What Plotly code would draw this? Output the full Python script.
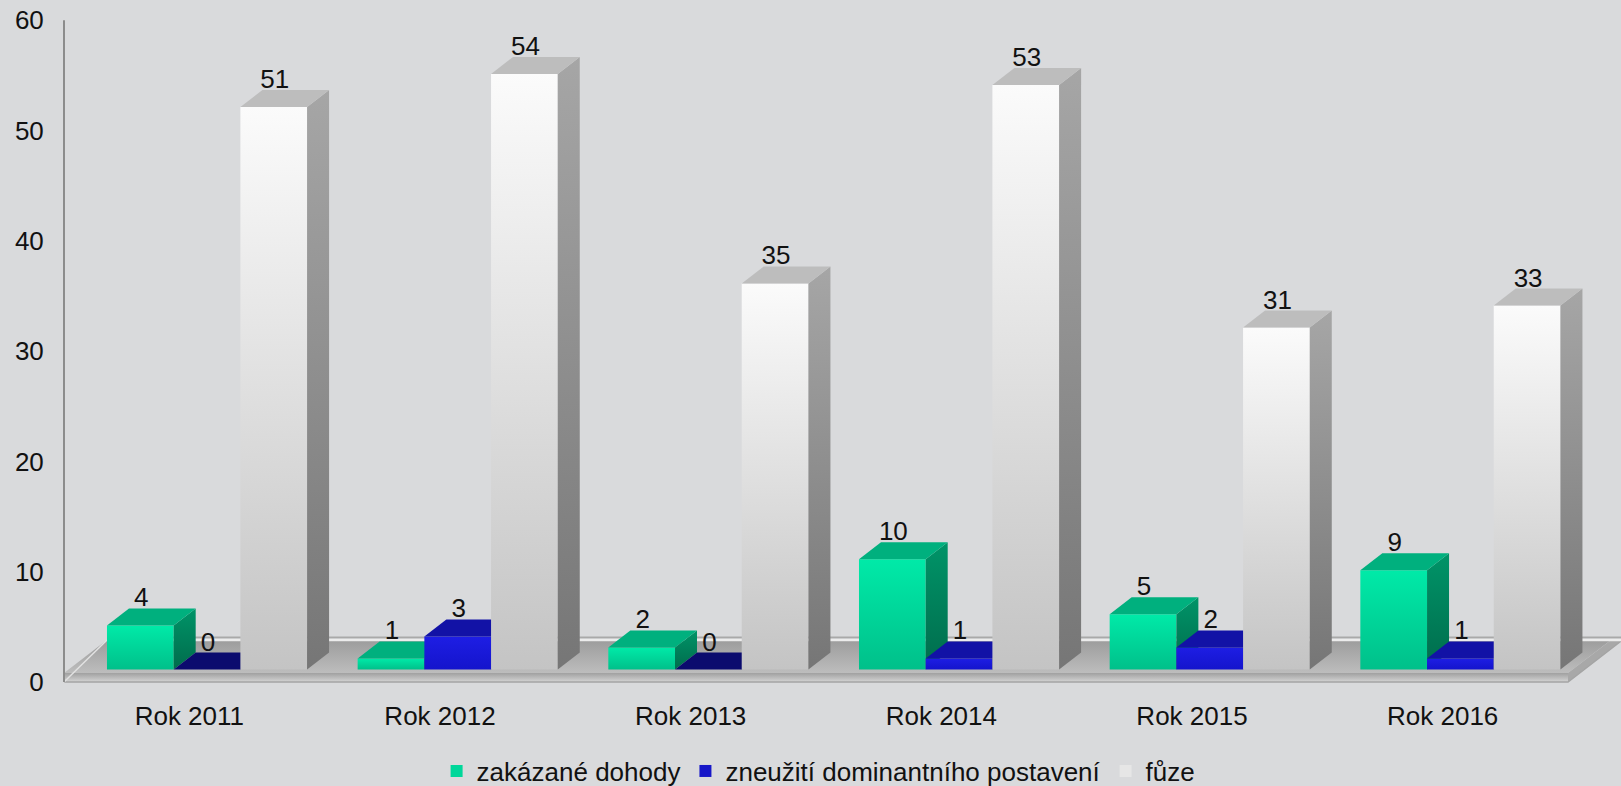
import plotly.graph_objects as go

# ---------------- data ----------------
categories = ["Rok 2011", "Rok 2012", "Rok 2013", "Rok 2014", "Rok 2015", "Rok 2016"]
zakazane_dohody = [4, 1, 2, 10, 5, 9]
zneuziti_postaveni = [0, 3, 0, 1, 2, 1]
fuze = [51, 54, 35, 53, 31, 33]
series_names = ["zakázané dohody", "zneužití dominantního postavení", "fůze"]
y_ticks = [0, 10, 20, 30, 40, 50, 60]

series_values = [zakazane_dohody, zneuziti_postaveni, fuze]

# ---------------- styling / geometry ----------------
W, H = 1621, 786
PX_X = 250.67          # pixels per category
PX_Y = 11.03           # pixels per value unit
Y0_PX = 682            # pixel row of value 0 on the front plane
LEFT_PX = 58
TOP_PX = 20
BOTTOM_PX = 690


def ux(px):
    return px / PX_X


def uy(px):
    return px / PX_Y


X_MIN = -0.5 - ux(64 - LEFT_PX)
X_MAX = -0.5 + ux(W - 64)
Y_MIN = -uy(BOTTOM_PX - Y0_PX)
Y_MAX = uy(Y0_PX - TOP_PX)

BAR_W = ux(66.7)
SHIFT_X = ux(17.7)
BASE_Y = uy(12.5)
DEP_X = ux(22)
DEP_Y = uy(17)
LABEL_GAP = uy(8.5)

styles = [
    dict(front=("#00c08a", "#00eaa8"), top="#00b07e", side=("#006c4c", "#009468"),
         zero_top="#00a070", legend="#00d79a"),
    dict(front=("#1414cc", "#1e1ee4"), top="#1212a6", side=("#0a0a6e", "#0e0e8c"),
         zero_top="#0b0b6e", legend="#1717c8"),
    dict(front=("#c4c4c4", "#fbfbfb"), top="#bdbdbd", side=("#767676", "#a6a6a6"),
         zero_top="#bdbdbd", legend="#e6e6e6"),
]

FONT = "Liberation Sans, Arial, sans-serif"
FS = 26
BG = "#d9dadc"

fig = go.Figure()


def poly(xs, ys, color=None, grad=None, start=None, stop=None):
    tr = dict(x=xs + [xs[0]], y=ys + [ys[0]], mode="none", fill="toself",
              hoverinfo="skip", showlegend=False)
    if grad is not None:
        tr["fillgradient"] = dict(type="vertical",
                                  colorscale=[[0, grad[0]], [1, grad[1]]],
                                  start=start, stop=stop)
        tr["fillcolor"] = grad[1]
    else:
        tr["fillcolor"] = color
    fig.add_trace(go.Scatter(**tr))


def line(xs, ys, color, width):
    fig.add_trace(go.Scatter(x=xs, y=ys, mode="lines", hoverinfo="skip",
                             showlegend=False, line=dict(color=color, width=width)))


# ---------------- floor ----------------
xl_f = -0.5
xr_f = 5.5
top_front = uy(9)
fl_dx = ux(43)
fl_dy = uy(42)
# top surface
poly([xl_f, xr_f, xr_f + fl_dx, xl_f + fl_dx],
     [top_front, top_front, fl_dy, fl_dy],
     grad=("#bdbdbd", "#9c9c9c"), start=top_front, stop=fl_dy)
# right side of slab
poly([xr_f, xr_f + ux(53), xr_f + fl_dx, xr_f],
     [0, fl_dy - uy(1), fl_dy, top_front], color="#a8a8a8")
# front face of slab
poly([xl_f, xr_f, xr_f, xl_f], [0, 0, top_front, top_front],
     grad=("#d4d4d4", "#a0a0a0"), start=0, stop=top_front)
line([xl_f, xr_f, xr_f + ux(53)], [0, 0, fl_dy - uy(1)], "#a4a4a4", 1.5)
# left top edge (light)
line([xl_f, xl_f + fl_dx], [0, fl_dy], "#e2e2e2", 1.5)
# back wall bottom edge
line([xl_f + fl_dx, X_MAX], [fl_dy + uy(2.5), fl_dy + uy(2.5)], "#a9a9a9", 2)
line([xl_f + fl_dx, X_MAX], [fl_dy, fl_dy], "#ececec", 2.5)

# ---------------- 3D bars ----------------
label_x = [[], [], []]
label_y = [[], [], []]
for i in range(len(categories)):
    for j, vals in enumerate(series_values):
        v = vals[i]
        st = styles[j]
        xc = i + (j - 1) * BAR_W + SHIFT_X
        xl = xc - BAR_W / 2
        xr = xc + BAR_W / 2
        yb = BASE_Y
        yt = BASE_Y + v
        if v > 0:
            poly([xl, xr, xr, xl], [yb, yb, yt, yt],
                 grad=st["front"], start=yb, stop=yt)
            poly([xr, xr + DEP_X, xr + DEP_X, xr], [yb, yb + DEP_Y, yt + DEP_Y, yt],
                 grad=st["side"], start=yb, stop=yt + DEP_Y)
            top_color = st["top"]
        else:
            top_color = st["zero_top"]
        poly([xl, xr, xr + DEP_X, xl + DEP_X], [yt, yt, yt + DEP_Y, yt + DEP_Y],
             color=top_color)
        label_x[j].append(xc + ux(1))
        label_y[j].append(yt + DEP_Y + LABEL_GAP)

# value labels
for j, vals in enumerate(series_values):
    fig.add_trace(go.Scatter(x=label_x[j], y=label_y[j], mode="text",
                             text=[str(v) for v in vals], textposition="middle center",
                             textfont=dict(family=FONT, size=FS, color="#111111"),
                             hoverinfo="skip", showlegend=False, cliponaxis=False))

# value axis line (front-left edge)
line([-0.5, -0.5], [0, 60], "#8c8c8c", 2)

# legend entries
for j, name in enumerate(series_names):
    fig.add_trace(go.Bar(x=[None], y=[None], name=name,
                         marker=dict(color=styles[j]["legend"], line=dict(width=0))))

fig.update_layout(
    width=W, height=H,
    paper_bgcolor=BG, plot_bgcolor=BG,
    margin=dict(l=LEFT_PX, r=0, t=TOP_PX, b=H - BOTTOM_PX),
    font=dict(family=FONT, size=FS, color="#111111"),
    showlegend=True,
    legend=dict(orientation="h", xref="container", yref="container",
                x=0.505, xanchor="center", y=0.019, yanchor="middle",
                font=dict(family=FONT, size=FS, color="#111111"),
                bgcolor="rgba(0,0,0,0)", itemwidth=30, tracegroupgap=0),
    xaxis=dict(range=[X_MIN, X_MAX], tickvals=list(range(len(categories))),
               ticktext=categories, showgrid=False, zeroline=False, showline=False,
               ticks="outside", ticklen=3, tickcolor="rgba(0,0,0,0)",
               fixedrange=True),
    yaxis=dict(range=[Y_MIN, Y_MAX], tickvals=y_ticks, showgrid=False,
               zeroline=False, showline=False, ticks="outside", ticklen=8,
               tickcolor="rgba(0,0,0,0)", fixedrange=True),
)

fig.write_html("out.html", config={"displayModeBar": False},
               post_script="document.body.style.margin='0';")
